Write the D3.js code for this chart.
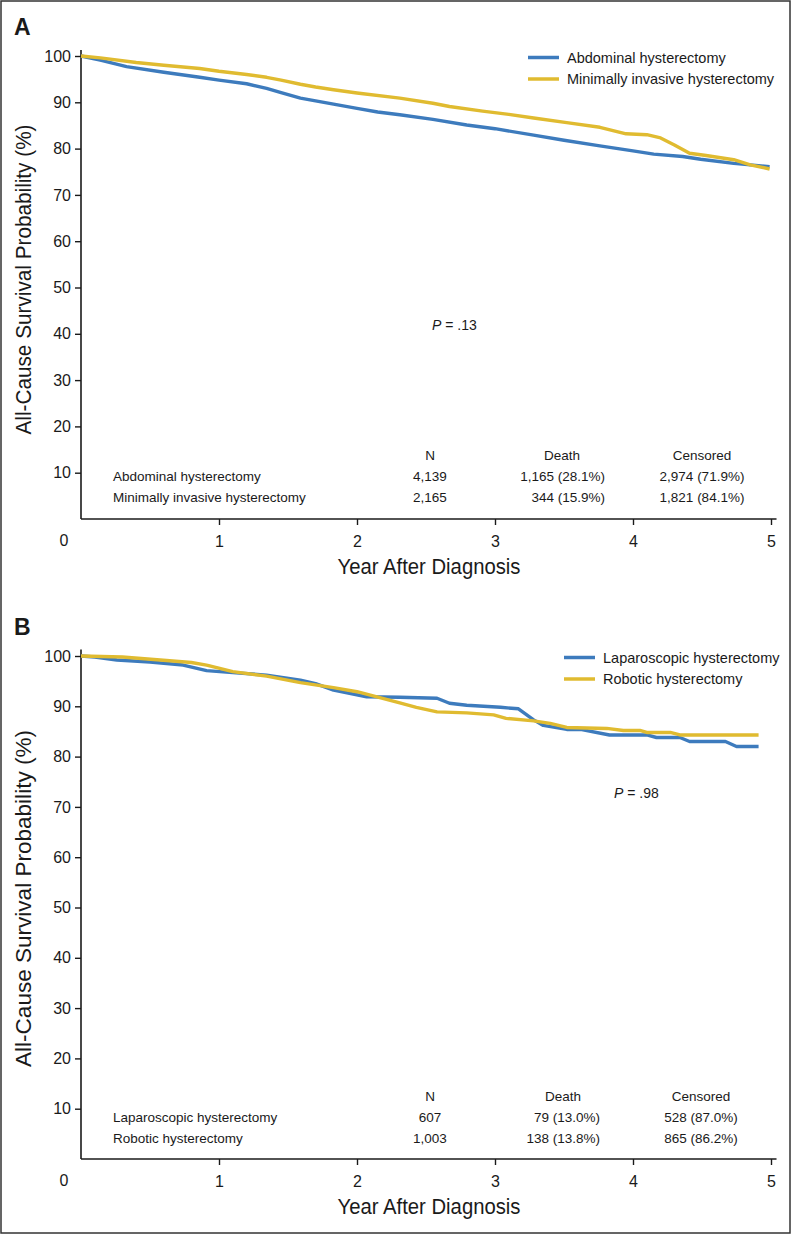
<!DOCTYPE html>
<html>
<head>
<meta charset="utf-8">
<script src="https://cdn.jsdelivr.net/npm/d3@7"></script>
<style>
body { margin: 0; background: #fff; }
text { font-family: "Liberation Sans", Arial, Helvetica, sans-serif; fill: #1a1a1a; }
.axt { font-family: "Liberation Sans Narrow", "Arial Narrow", "Liberation Sans", sans-serif; }
</style>
</head>
<body>
<div id="chart"></div>
<script>
// panel A: abdominal vs minimally invasive
var absTime = [0, 0.14, 0.33, 0.6, 0.86, 1.0, 1.2, 1.345, 1.45, 1.59, 1.7, 1.83, 2.0, 2.15, 2.31, 2.55, 2.795, 3.0, 3.28, 3.5, 3.76, 4.0, 4.15, 4.36, 4.49, 4.73, 4.99];
var absSurv = [100, 99.1, 97.7, 96.5, 95.4, 94.8, 94.0, 93.0, 92.1, 90.9, 90.3, 89.6, 88.7, 87.9, 87.3, 86.3, 85.1, 84.3, 82.9, 81.8, 80.6, 79.5, 78.8, 78.3, 77.7, 76.8, 76.1];
var misTime = [0, 0.14, 0.4, 0.6, 0.86, 1.0, 1.2, 1.345, 1.45, 1.59, 1.7, 1.83, 2.0, 2.31, 2.55, 2.67, 2.91, 3.1, 3.28, 3.52, 3.76, 3.95, 4.1, 4.2, 4.3, 4.41, 4.53, 4.73, 4.85, 4.99];
var misSurv = [100, 99.6, 98.6, 98.0, 97.3, 96.7, 96.0, 95.4, 94.8, 93.9, 93.3, 92.7, 92.0, 90.9, 89.8, 89.1, 88.1, 87.4, 86.6, 85.6, 84.6, 83.2, 83.0, 82.3, 80.8, 79.0, 78.5, 77.6, 76.5, 75.6];

// panel B: laparoscopic vs robotic
var lapTime = [0, 0.1, 0.26, 0.5, 0.74, 0.91, 1.1, 1.345, 1.59, 1.7, 1.83, 2.07, 2.31, 2.58, 2.67, 2.795, 3.04, 3.17, 3.28, 3.35, 3.52, 3.62, 3.83, 4.1, 4.17, 4.34, 4.41, 4.67, 4.75, 4.91];
var lapSurv = [100, 99.8, 99.2, 98.8, 98.2, 97.1, 96.7, 96.2, 95.2, 94.5, 93.2, 91.9, 91.8, 91.6, 90.6, 90.2, 89.8, 89.5, 87.3, 86.2, 85.4, 85.4, 84.3, 84.3, 83.8, 83.8, 83.0, 83.0, 82.0, 82.0];
var robTime = [0, 0.3, 0.62, 0.8, 0.91, 1.1, 1.345, 1.59, 1.83, 2.0, 2.31, 2.43, 2.58, 2.795, 2.99, 3.08, 3.28, 3.4, 3.52, 3.81, 3.93, 4.05, 4.1, 4.27, 4.34, 4.91];
var robSurv = [100, 99.8, 99.1, 98.7, 98.2, 96.9, 96.0, 94.7, 93.7, 92.9, 90.7, 89.8, 88.9, 88.7, 88.3, 87.6, 87.1, 86.6, 85.8, 85.6, 85.2, 85.2, 84.8, 84.8, 84.3, 84.3];

var xTicks = [1, 2, 3, 4, 5];
var yTicks = [10, 20, 30, 40, 50, 60, 70, 80, 90, 100];
var tableHead = ['N', 'Death', 'Censored'];

var groupsA = ['Abdominal hysterectomy', 'Minimally invasive hysterectomy'];
var nA = ['4,139', '2,165'];
var deathA = ['1,165 (28.1%)', '344 (15.9%)'];
var censA = ['2,974 (71.9%)', '1,821 (84.1%)'];

var groupsB = ['Laparoscopic hysterectomy', 'Robotic hysterectomy'];
var nB = ['607', '1,003'];
var deathB = ['79 (13.0%)', '138 (13.8%)'];
var censB = ['528 (87.0%)', '865 (86.2%)'];

var colors = ['#3d7bbd', '#e0bb30'];

var svg = d3.select('#chart').append('svg')
    .attr('width', 794)
    .attr('height', 1235);

svg.append('rect')
    .attr('x', 1).attr('y', 1)
    .attr('width', 789).attr('height', 1232)
    .attr('fill', 'none')
    .attr('stroke', '#333')
    .attr('stroke-width', 1.5);

function panel(p) {
    var x = d3.scaleLinear().domain([0, 5]).range([81, 771]);
    var y = d3.scaleLinear().domain([0, 100]).range([p.bottom, p.top]);
    var g = svg.append('g');

    g.append('text')
        .attr('x', 14).attr('y', p.top - 21)
        .style('font-size', '23px').style('font-weight', 'bold')
        .text(p.letter);

    // axes
    g.append('g')
        .attr('transform', 'translate(' + x(0) + ',0)')
        .call(d3.axisLeft(y).tickValues(yTicks).tickSize(6).tickSizeOuter(0).tickPadding(4));
    g.append('g')
        .attr('transform', 'translate(0,' + y(0) + ')')
        .call(d3.axisBottom(x).tickValues(xTicks).tickFormat(d3.format('d'))
            .tickSize(6).tickSizeOuter(0).tickPadding(11));
    g.selectAll('.domain').remove();
    g.selectAll('.tick line').attr('stroke', '#1a1a1a').attr('stroke-width', 1.4);
    g.selectAll('.tick text').style('font-size', '16px').attr('fill', '#1a1a1a');
    g.append('line')
        .attr('x1', x(0)).attr('x2', x(0))
        .attr('y1', y(0)).attr('y2', y(101.3))
        .attr('stroke', '#1a1a1a').attr('stroke-width', 1.6);
    g.append('line')
        .attr('x1', x(0)).attr('x2', x(5.04))
        .attr('y1', y(0)).attr('y2', y(0))
        .attr('stroke', '#1a1a1a').attr('stroke-width', 1.6);
    g.append('text')
        .attr('x', x(0) - 17).attr('y', y(0) + 27)
        .attr('text-anchor', 'middle')
        .style('font-size', '16px')
        .text('0');

    // titles (condensed face in the original)
    g.append('text').attr('class', 'axt')
        .attr('transform', 'translate(31,' + ((p.top + p.bottom) / 2 + p.titleShift) + ') rotate(-90)')
        .attr('text-anchor', 'middle')
        .attr('textLength', p.titleLen).attr('lengthAdjust', 'spacingAndGlyphs')
        .style('font-size', '22px')
        .text('All-Cause Survival Probability (%)');
    g.append('text').attr('class', 'axt')
        .attr('x', 429).attr('y', y(0) + 55)
        .attr('text-anchor', 'middle')
        .attr('textLength', 183).attr('lengthAdjust', 'spacingAndGlyphs')
        .style('font-size', '22px')
        .text('Year After Diagnosis');

    // curves
    var line = d3.line()
        .x(function (d) { return x(d[0]); })
        .y(function (d) { return y(d[1]); });
    p.series.forEach(function (s, i) {
        var pts = s.t.map(function (t, j) { return [t, s.v[j]]; });
        g.append('path')
            .attr('d', line(pts))
            .attr('fill', 'none')
            .attr('stroke', colors[i])
            .attr('stroke-width', 3.4)
            .attr('stroke-linejoin', 'round');
    });

    // legend
    p.series.forEach(function (s, i) {
        var ly = p.legY + i * 21.5;
        g.append('line')
            .attr('x1', p.legX).attr('x2', p.legX + 31)
            .attr('y1', ly).attr('y2', ly)
            .attr('stroke', colors[i]).attr('stroke-width', 3.5);
        g.append('text')
            .attr('x', p.legX + 39).attr('y', ly)
            .attr('dy', '0.36em')
            .style('font-size', '14.5px')
            .text(s.name);
    });

    // p value
    var pt = g.append('text')
        .attr('x', p.pX).attr('y', p.pY)
        .style('font-size', '14px');
    pt.append('tspan').style('font-style', 'italic').text('P');
    pt.append('tspan').text(' = ' + p.pval);

    // counts table
    var cols = [430, p.deathX, p.censX];
    tableHead.forEach(function (h, i) {
        g.append('text')
            .attr('x', cols[i]).attr('y', p.tabY)
            .attr('dy', '0.36em')
            .attr('text-anchor', 'middle')
            .style('font-size', '13.5px')
            .text(h);
    });
    p.groups.forEach(function (name, r) {
        var ry = p.tabY + 21 * (r + 1);
        g.append('text')
            .attr('x', 113).attr('y', ry).attr('dy', '0.36em')
            .style('font-size', '13.5px')
            .text(name);
        g.append('text')
            .attr('x', 430).attr('y', ry).attr('dy', '0.36em')
            .attr('text-anchor', 'middle')
            .style('font-size', '13.5px')
            .text(p.n[r]);
        g.append('text')
            .attr('x', p.deathEnd).attr('y', ry).attr('dy', '0.36em')
            .attr('text-anchor', 'end')
            .style('font-size', '13.5px')
            .text(p.death[r]);
        g.append('text')
            .attr('x', p.censX).attr('y', ry).attr('dy', '0.36em')
            .attr('text-anchor', 'middle')
            .style('font-size', '13.5px')
            .text(p.cens[r]);
    });
}

panel({
    letter: 'A', top: 56, bottom: 519,
    titleShift: -8, titleLen: 310,
    series: [
        {name: 'Abdominal hysterectomy', t: absTime, v: absSurv},
        {name: 'Minimally invasive hysterectomy', t: misTime, v: misSurv}
    ],
    legX: 528, legY: 57.5,
    pX: 432, pY: 330, pval: '.13',
    tabY: 455, deathX: 562, deathEnd: 605, censX: 702,
    groups: groupsA, n: nA, death: deathA, cens: censA
});

panel({
    letter: 'B', top: 656, bottom: 1159,
    titleShift: -9, titleLen: 337,
    series: [
        {name: 'Laparoscopic hysterectomy', t: lapTime, v: lapSurv},
        {name: 'Robotic hysterectomy', t: robTime, v: robSurv}
    ],
    legX: 564, legY: 657.5,
    pX: 614, pY: 798, pval: '.98',
    tabY: 1096, deathX: 563, deathEnd: 600, censX: 701,
    groups: groupsB, n: nB, death: deathB, cens: censB
});
</script>
</body>
</html>
